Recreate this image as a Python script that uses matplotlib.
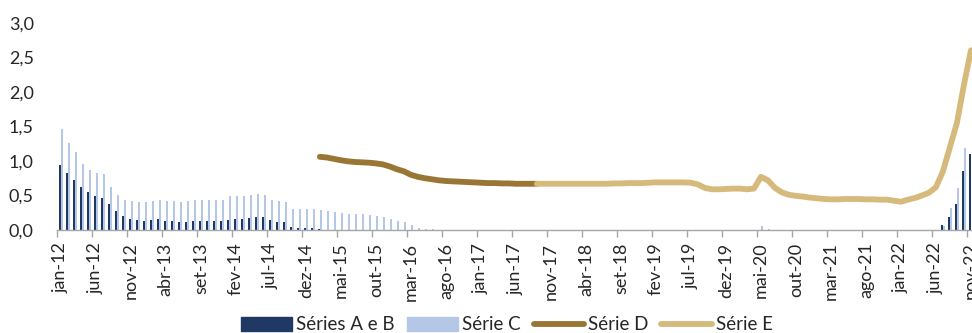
import matplotlib
matplotlib.use('Agg')
import matplotlib.pyplot as plt
import numpy as np
import pandas as pd

plt.rcParams['font.family'] = ['Lato', 'DejaVu Sans']

# monthly axis, jan-12 .. nov-22
months = pd.period_range('2012-01', '2022-11', freq='M')
pt_months = ['jan', 'fev', 'mar', 'abr', 'mai', 'jun',
             'jul', 'ago', 'set', 'out', 'nov', 'dez']
labels = ['%s-%02d' % (pt_months[p.month - 1], p.year % 100) for p in months]

# Séries A e B: jan-12 .. mar-15 and jul-22 .. nov-22
ab_start = '2012-01'
ab_values = [0.94, 0.83, 0.73, 0.62, 0.545, 0.49, 0.47, 0.375, 0.27, 0.20,
             0.16, 0.145, 0.13, 0.145, 0.155, 0.135, 0.13, 0.115, 0.12, 0.135,
             0.135, 0.135, 0.135, 0.125, 0.15, 0.165, 0.16, 0.175, 0.19, 0.185,
             0.14, 0.12, 0.11, 0.045, 0.03, 0.03, 0.035, 0.02, 0.005]
ab_start_2 = '2022-07'
ab_values_2 = [0.07, 0.19, 0.376, 0.85, 1.10]

# Série C: jan-12 .. jul-16, mai-20 .. jun-20, jul-22 .. out-22
c_start = '2012-01'
c_values = [1.46, 1.26, 1.13, 0.96, 0.87, 0.83, 0.81, 0.63, 0.51, 0.44,
            0.42, 0.405, 0.40, 0.42, 0.43, 0.42, 0.42, 0.405, 0.42, 0.43,
            0.435, 0.43, 0.435, 0.43, 0.49, 0.50, 0.49, 0.51, 0.525, 0.51,
            0.43, 0.415, 0.405, 0.31, 0.31, 0.31, 0.31, 0.29, 0.275, 0.26,
            0.245, 0.23, 0.227, 0.227, 0.217, 0.207, 0.188, 0.159, 0.125, 0.111,
            0.068, 0.034, 0.019, 0.010, 0.005]
c_start_2 = '2020-05'
c_values_2 = [0.06, 0.02]
c_start_3 = '2022-07'
c_values_3 = [0.06, 0.32, 0.61, 1.19]

# Série D: fev-15 .. set-17
d_start = '2015-02'
d_values = [1.06, 1.05, 1.03, 1.01, 0.995, 0.985, 0.98, 0.975, 0.965, 0.95,
            0.92, 0.88, 0.85, 0.80, 0.77, 0.75, 0.735, 0.72, 0.71, 0.705,
            0.70, 0.695, 0.69, 0.685, 0.68, 0.68, 0.675, 0.675, 0.67, 0.67,
            0.67, 0.67]

# Série E: set-17 .. nov-22
e_start = '2017-09'
e_values = [0.67, 0.67, 0.67, 0.67, 0.67, 0.67, 0.67, 0.67, 0.67, 0.67,
            0.67, 0.675, 0.675, 0.68, 0.68, 0.68, 0.685, 0.69, 0.69, 0.69,
            0.69, 0.69, 0.685, 0.66, 0.61, 0.59, 0.59, 0.595, 0.60, 0.60,
            0.59, 0.60, 0.77, 0.72, 0.61, 0.545, 0.51, 0.495, 0.485, 0.47,
            0.46, 0.45, 0.445, 0.445, 0.45, 0.45, 0.45, 0.445, 0.445, 0.44,
            0.44, 0.425, 0.41, 0.44, 0.465, 0.50, 0.54, 0.62, 0.85, 1.20,
            1.55, 2.10, 2.60]

DARK_BLUE = '#1F3864'
LIGHT_BLUE = '#B4C7E7'
DARK_GOLD = '#997633'
LIGHT_GOLD = '#D6BA7C'
GREY = '#A6A6A6'


def positions(start, values):
    i0 = months.get_loc(pd.Period(start, freq='M'))
    return np.arange(i0, i0 + len(values))


fig = plt.figure(figsize=(9.72, 3.33), dpi=100)
ax = fig.add_axes([0.059, 0.309, 0.9435, 0.623])

bw = 0.29
for start, vals in [(ab_start, ab_values), (ab_start_2, ab_values_2)]:
    ax.bar(positions(start, vals) - bw / 2, vals, width=bw, color=DARK_BLUE, zorder=2)
for start, vals in [(c_start, c_values), (c_start_2, c_values_2), (c_start_3, c_values_3)]:
    ax.bar(positions(start, vals) + bw / 2, vals, width=bw, color=LIGHT_BLUE, zorder=2)

ax.plot(positions(d_start, d_values), d_values, color=DARK_GOLD, lw=4.2,
        solid_capstyle='round', solid_joinstyle='round', zorder=3)
ax.plot(positions(e_start, e_values), e_values, color=LIGHT_GOLD, lw=4.2,
        solid_capstyle='round', solid_joinstyle='round', zorder=4)

ax.set_xlim(-0.5, len(months) - 0.5)
ax.set_ylim(0, 3.0)
ax.set_yticks(np.arange(0, 3.01, 0.5))
ax.set_yticklabels([('%.1f' % v).replace('.', ',') for v in np.arange(0, 3.01, 0.5)])

idx = np.arange(0, len(months), 5)
ax.set_xticks(idx)
ax.set_xticklabels([labels[i] for i in idx], rotation=90)
ax.set_xticks(idx - 0.5, minor=True)
ax.tick_params(axis='x', which='major', length=0, pad=9, labelsize=13, labelcolor='#262626')
ax.tick_params(axis='x', which='minor', length=5, width=1, color=GREY)
ax.tick_params(axis='y', length=0, pad=17, labelsize=13, labelcolor='#262626')

for s in ['top', 'right', 'left']:
    ax.spines[s].set_visible(False)
ax.spines['bottom'].set_color(GREY)
ax.spines['bottom'].set_linewidth(1)

handles = [
    plt.Rectangle((0, 0), 1, 1, color=DARK_BLUE),
    plt.Rectangle((0, 0), 1, 1, color=LIGHT_BLUE),
    plt.Line2D([], [], color=DARK_GOLD, lw=4.2, solid_capstyle='round'),
    plt.Line2D([], [], color=LIGHT_GOLD, lw=4.2, solid_capstyle='round'),
]
fig.legend(handles, ['Séries A e B', 'Série C', 'Série D', 'Série E'],
           loc='center', bbox_to_anchor=(507 / 972, 8 / 333), ncol=4,
           frameon=False, fontsize=13.5, handlelength=2.7, handletextpad=0.2,
           columnspacing=0.7, labelcolor='#262626', borderpad=0)

fig.savefig('out.png', dpi=100)
